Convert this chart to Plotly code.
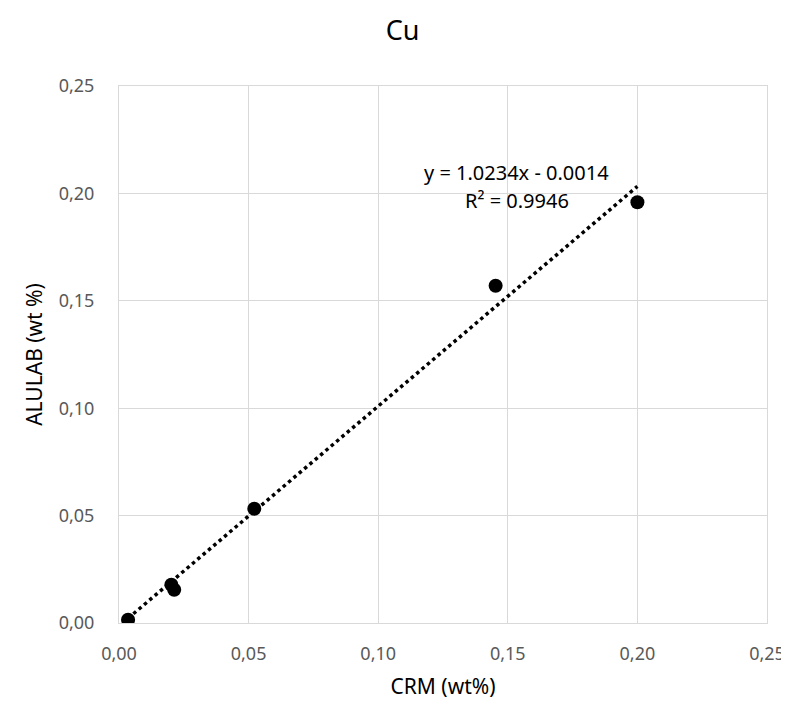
import plotly.graph_objects as go

# Data
crm = [0.0035, 0.0202, 0.0213, 0.0522, 0.1453, 0.2000]
alulab = [0.0015, 0.0178, 0.0155, 0.0532, 0.1570, 0.1959]
slope = 1.0234
intercept = -0.0014
tick_vals = [0.00, 0.05, 0.10, 0.15, 0.20, 0.25]

trend_x = [min(crm), max(crm)]
trend_y = [slope * v + intercept for v in trend_x]

FONT = "Noto Sans"

fig = go.Figure()
fig.add_trace(go.Scatter(x=trend_x, y=trend_y, mode="lines",
                         line=dict(color="black", width=3.5, dash="3.5px,3.5px"),
                         showlegend=False, hoverinfo="skip"))
fig.add_trace(go.Scatter(x=crm, y=alulab, mode="markers",
                         marker=dict(color="black", size=14),
                         showlegend=False))

fig.add_annotation(x=0.1534, y=0.2095, xref="x", yref="y",
                   text="y = 1.0234x - 0.0014", showarrow=False,
                   font=dict(family=FONT, size=20, color="black"))
fig.add_annotation(x=0.1534, y=0.1965, xref="x", yref="y",
                   text="R² = 0.9946", showarrow=False,
                   font=dict(family=FONT, size=20, color="black"))

axis_common = dict(range=[0, 0.25], tickvals=tick_vals, tickformat=".2f",
                   showgrid=True, gridcolor="#d9d9d9", gridwidth=1,
                   zeroline=False, showline=True, mirror=True,
                   linecolor="#d9d9d9", linewidth=1,
                   ticks="outside", tickcolor="rgba(0,0,0,0)",
                   tickfont=dict(family=FONT, size=18, color="#595959"))

fig.update_xaxes(**axis_common, ticklen=14,
                 title=dict(text="CRM (wt%)", standoff=15,
                            font=dict(family=FONT, size=21, color="black")))
fig.update_yaxes(**axis_common, ticklen=20,
                 title=dict(text="ALULAB (wt %)", standoff=10,
                            font=dict(family=FONT, size=21, color="black")))

fig.update_layout(
    width=789, height=704,
    margin=dict(l=111, r=23, t=78, b=89),
    paper_bgcolor="white", plot_bgcolor="white",
    separators=",.",
    title=dict(text="Cu", x=0.5, xanchor="center",
               y=1 - 23 / 704, yanchor="middle",
               font=dict(family=FONT, size=27, color="black")),
)
fig.update_layout(title_xref="container")

fig.write_html("out.html")
